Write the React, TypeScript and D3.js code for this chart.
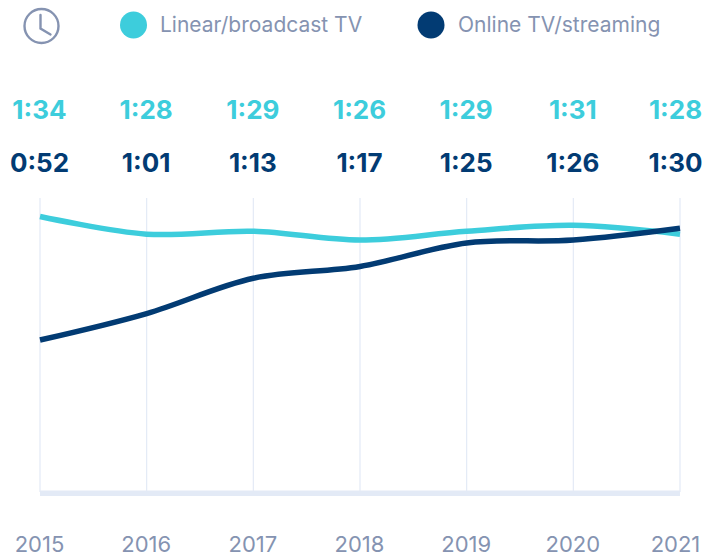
import React from "react";
import * as d3 from "d3";

const years = ["2015", "2016", "2017", "2018", "2019", "2020", "2021"];
const linearLabels = ["1:34", "1:28", "1:29", "1:26", "1:29", "1:31", "1:28"];
const onlineLabels = ["0:52", "1:01", "1:13", "1:17", "1:25", "1:26", "1:30"];
const linearMinutes = [94, 88, 89, 86, 89, 91, 88];
const onlineMinutes = [52, 61, 73, 77, 85, 86, 90];

const CYAN = "#3dcddc";
const NAVY = "#023b73";
const GREY = "#8593b1";
const GRID = "#e3eaf6";
const FONT = "Inter, 'Open Sans', sans-serif";

export default function App() {
  const x = d3.scalePoint<string>().domain(years).range([40, 680]);
  const y = d3.scaleLinear().domain([0, 94]).range([493, 216.5]);
  const line = d3
    .line<number>()
    .x((_, i) => x(years[i]) as number)
    .y((d) => y(d))
    .curve(d3.curveCatmullRom.alpha(0.5));
  const labelX = (yr: string) => Math.min((x(yr) as number) - 0.5, 675.5);

  return (
    <svg
      width={708}
      height={556}
      style={{ position: "absolute", left: 0, top: 0, display: "block" }}
      fontFamily={FONT}
    >
      <g stroke={GREY} fill="none" strokeWidth={2.4} strokeLinecap="round">
        <circle cx={41.5} cy={26} r={17} />
        <path d="M40.5 15 V28.5 L50.5 34.5" />
      </g>
      <circle cx={133.5} cy={25} r={13.5} fill={CYAN} />
      <text x={160} y={32} fontSize={21} fill={GREY}>Linear/broadcast TV</text>
      <circle cx={431} cy={25} r={13.5} fill={NAVY} />
      <text x={458} y={32} fontSize={21} fill={GREY}>Online TV/streaming</text>

      {years.map((yr, i) => (
        <g key={yr} textAnchor="middle" fontWeight={700} fontSize={26}>
          <text x={labelX(yr)} y={118.5} fill={CYAN}>{linearLabels[i]}</text>
          <text x={labelX(yr)} y={171.5} fill={NAVY}>{onlineLabels[i]}</text>
        </g>
      ))}

      {years.map((yr) => (
        <line key={yr} x1={x(yr)} x2={x(yr)} y1={198} y2={492} stroke={GRID} strokeWidth={1.2} />
      ))}
      <rect x={40} y={490.5} width={640} height={5.5} fill={GRID} />

      <path d={line(linearMinutes) as string} fill="none" stroke={CYAN} strokeWidth={5.5} />
      <path d={line(onlineMinutes) as string} fill="none" stroke={NAVY} strokeWidth={5.5} />

      {years.map((yr) => (
        <text key={yr} x={labelX(yr)} y={552} textAnchor="middle" fontSize={22} fill={GREY}>{yr}</text>
      ))}
    </svg>
  );
}
